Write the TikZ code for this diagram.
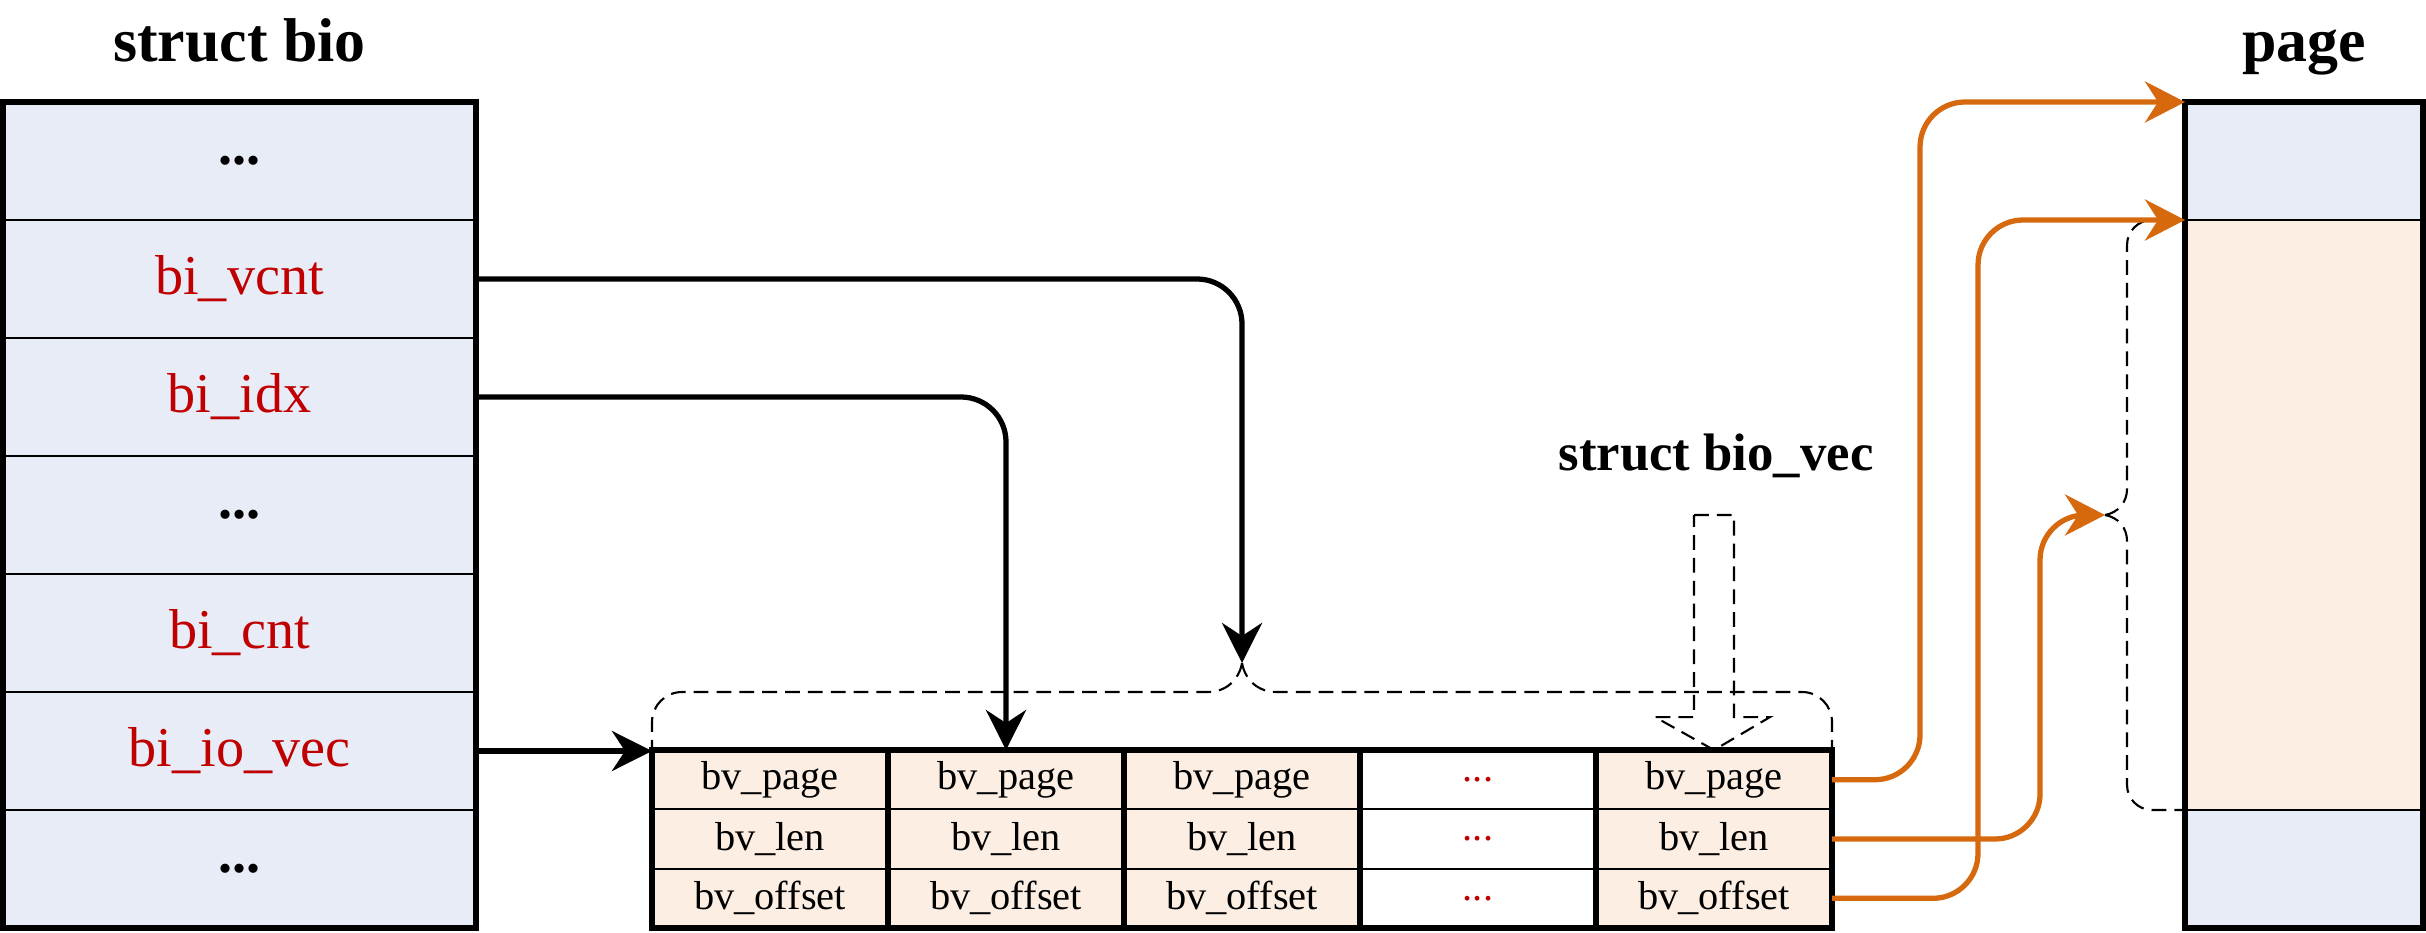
\documentclass[tikz,border=0pt]{standalone}
\usepackage{fontspec}
\setmainfont{Liberation Serif}
\usetikzlibrary{positioning,arrows.meta,calc}
\definecolor{biofill}{RGB}{231,236,247}
\definecolor{vecfill}{RGB}{252,238,227}
\definecolor{fieldred}{RGB}{192,0,0}
\definecolor{ptrorange}{RGB}{214,104,14}

\begin{document}
\begin{tikzpicture}[
    field/.style={draw, line width=0.6pt, fill=biofill, minimum width=4.73cm, minimum height=1.18cm,
      inner sep=0pt, outer sep=0pt, font=\fontsize{16}{18}\selectfont},
    cell/.style={draw, line width=0.6pt, fill=vecfill, minimum width=2.36cm, minimum height=0.593cm,
      inner sep=0pt, outer sep=0pt, font=\fontsize{11.5}{13}\selectfont},
    title/.style={anchor=base, inner sep=0pt, font=\fontsize{17.6}{20}\selectfont\bfseries},
    ptr/.style={draw, line width=1.5pt, rounded corners=0.45cm, -{Stealth[length=0.4cm, width=0.4cm]}},
    optr/.style={draw, ptrorange, line width=1.5pt, rounded corners=0.45cm, -{Stealth[length=0.4cm, width=0.41cm]}},
    brace/.style={draw, line width=0.6pt, dash pattern=on 4.2pt off 2.3pt}
  ]
    \useasboundingbox (0,0) rectangle (24.26,9.32);

    % struct bio
    \node[field] (bio0) at (2.395,7.71) {\textbf{...}};
    \foreach \i/\txt/\col [remember=\i as \j (initially 0)] in
      {1/bi\_vcnt/fieldred, 2/bi\_idx/fieldred, 3/{\textbf{...}}/black,
       4/bi\_cnt/fieldred, 5/bi\_io\_vec/fieldred, 6/{\textbf{...}}/black}
      \node[field, text=\col, below=0pt of bio\j] (bio\i) {\txt};
    \path[draw, line width=1.7pt] (bio0.north west) rectangle (bio6.south east);
    \node[title] (biotitle) at ($(bio0.north)+(0,0.40)$) {struct bio};

    % bio_vec array
    \foreach \c/\x in {1/7.70, 2/10.06, 3/12.42, 5/17.14} {
      \node[cell] (vec-\c-1) at (\x,1.523) {bv\_page};
      \node[cell, below=0pt of vec-\c-1] (vec-\c-2) {bv\_len};
      \node[cell, below=0pt of vec-\c-2] (vec-\c-3) {bv\_offset};
    }
    \node[cell, fill=white, text=fieldred] (vec-4-1) at (14.78,1.523) {...};
    \node[cell, fill=white, text=fieldred, below=0pt of vec-4-1] (vec-4-2) {...};
    \node[cell, fill=white, text=fieldred, below=0pt of vec-4-2] (vec-4-3) {...};
    \foreach \c in {1,...,5}
      \path[draw, line width=1.5pt] (vec-\c-1.north west) rectangle (vec-\c-3.south east);

    % page
    \node[field, minimum width=2.38cm] (pg1) at (23.04,7.71) {};
    \node[field, fill=vecfill, minimum width=2.38cm, minimum height=5.90cm, below=0pt of pg1] (pg2) {};
    \node[field, minimum width=2.38cm, below=0pt of pg2] (pg3) {};
    \path[draw, line width=1.7pt] (pg1.north west) rectangle (pg3.south east);
    \node[title] (pgtitle) at ($(pg1.north)+(0,0.40)$) {page};

    \coordinate (btip) at (12.42,2.69);
    \coordinate (ptip) at (21.05,4.17);

    % braces
    \path[brace] (btip) to[out=-100,in=0] ++(-0.34,-0.29) [rounded corners=0.3cm] -| (vec-1-1.north west);
    \path[brace] (btip) to[out=-80,in=180] ++(0.34,-0.29) [rounded corners=0.3cm] -| (vec-5-1.north east);
    \path[brace] (ptip) to[out=10,in=-90] ++(0.22,0.26) [rounded corners=0.25cm] |- (pg2.north west);
    \path[brace] (ptip) to[out=-10,in=90] ++(0.22,-0.26) [rounded corners=0.25cm] |- (pg3.north west);

    % struct bio_vec
    \node[title, font=\fontsize{15}{17}\selectfont\bfseries] (vectitle) at (17.16,4.62) {struct bio\_vec};
    \path[brace] ($(vec-5-1.north)+(-0.20,2.35)$) -- ($(vec-5-1.north)+(0.20,2.35)$)
      -- ($(vec-5-1.north)+(0.20,0.33)$) -- ($(vec-5-1.north)+(0.56,0.33)$) -- (vec-5-1.north)
      -- ($(vec-5-1.north)+(-0.59,0.33)$) -- ($(vec-5-1.north)+(-0.20,0.33)$) -- cycle;

    % pointers
    \path[ptr] (bio1.east) -| (btip);
    \path[ptr] (bio2.east) -| (vec-2-1.north);
    \path[ptr] (bio5.east) -- (bio5.east -| vec-1-1.west);

    \path[optr] (vec-5-1.east) -- ++(0.88,0) |- (pg1.north west);
    \path[optr] (vec-5-3.east) -- ++(1.46,0) |- (pg2.north west);
    \path[optr] (vec-5-2.east) -- ++(2.08,0) |- (ptip);
  \end{tikzpicture}
\end{document}
